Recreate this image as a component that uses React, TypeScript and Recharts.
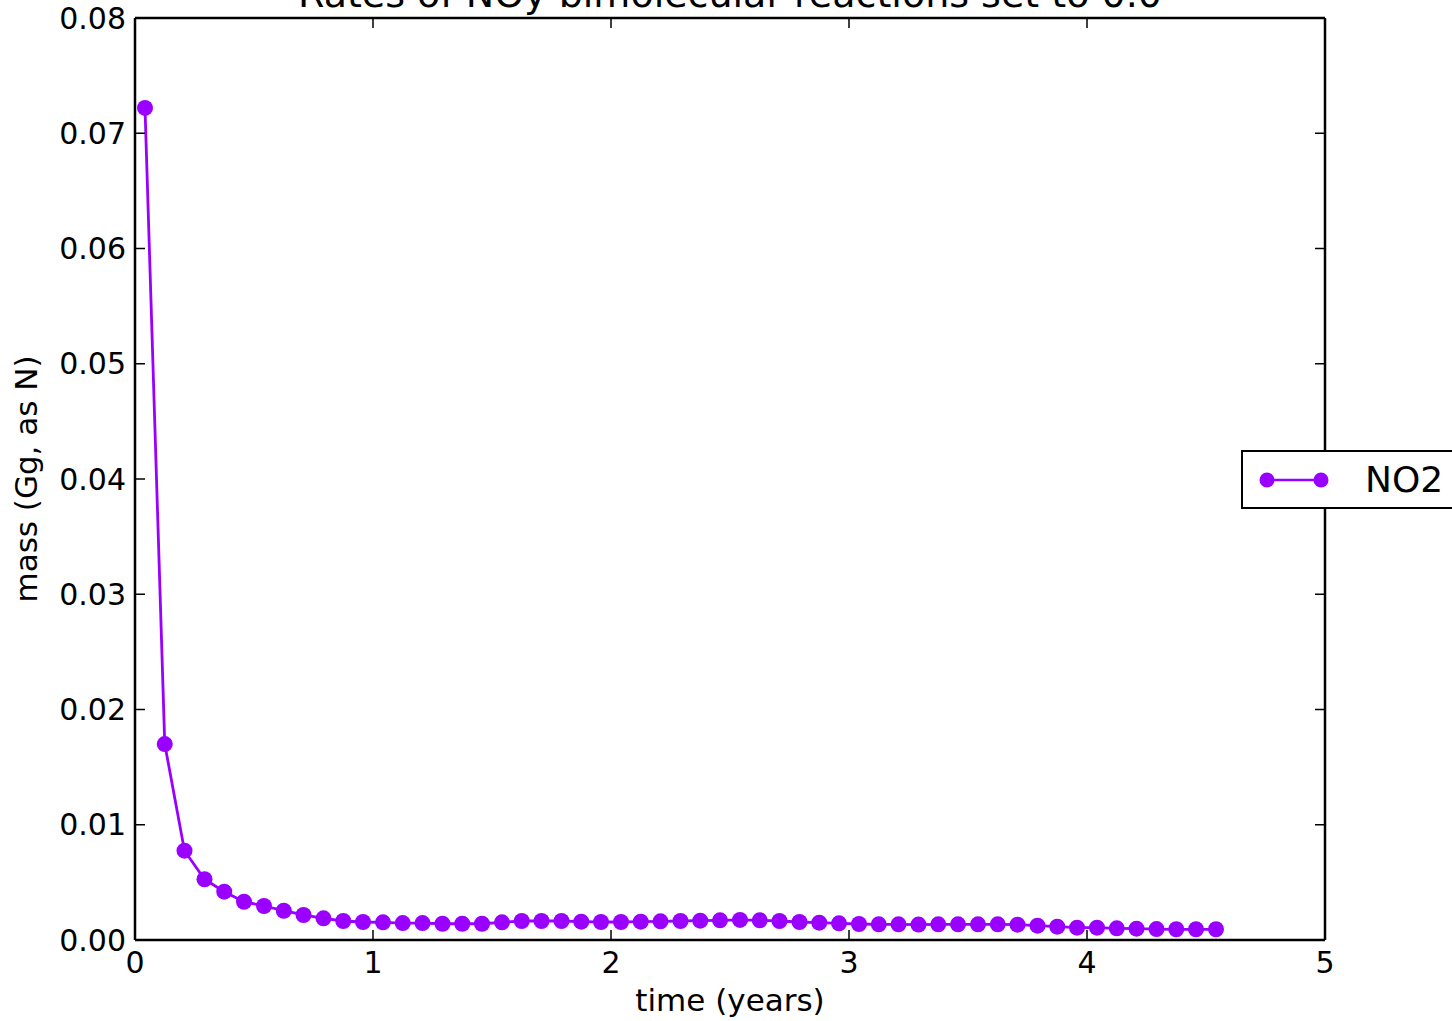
import { LineChart, Line, XAxis, YAxis, Legend, Label } from 'recharts';

// time (years), monthly samples
const TIMES = [
  0.042, 0.125, 0.208, 0.292, 0.375, 0.458, 0.542, 0.625, 0.708, 0.792, 0.875, 0.958,
  1.042, 1.125, 1.208, 1.292, 1.375, 1.458, 1.542, 1.625, 1.708, 1.792, 1.875, 1.958,
  2.042, 2.125, 2.208, 2.292, 2.375, 2.458, 2.542, 2.625, 2.708, 2.792, 2.875, 2.958,
  3.042, 3.125, 3.208, 3.292, 3.375, 3.458, 3.542, 3.625, 3.708, 3.792, 3.875, 3.958,
  4.042, 4.125, 4.208, 4.292, 4.375, 4.458, 4.542,
];

// NO2 mass (Gg, as N)
const NO2 = [
  0.0722, 0.0170, 0.00775, 0.00527, 0.00419, 0.00332, 0.00295, 0.00254, 0.00217, 0.00188, 0.00165, 0.00156,
  0.00153, 0.00147, 0.00147, 0.00141, 0.00141, 0.00141, 0.00153, 0.00165, 0.00165, 0.00165, 0.00159, 0.00156,
  0.00156, 0.00159, 0.00162, 0.00165, 0.00168, 0.00171, 0.00174, 0.00171, 0.00165, 0.00156, 0.00150, 0.00145,
  0.00139, 0.00136, 0.00136, 0.00134, 0.00136, 0.00136, 0.00136, 0.00136, 0.00133, 0.00124, 0.00116, 0.00107,
  0.00107, 0.00101, 0.00098, 0.00095, 0.00093, 0.00093, 0.00093,
];

const X_TICKS = [0, 1, 2, 3, 4, 5];
const Y_TICKS = [0, 0.01, 0.02, 0.03, 0.04, 0.05, 0.06, 0.07, 0.08];

const TITLE = 'Rates of NOy bimolecular reactions set to 0.0';
const PURPLE = '#9900ff';
const FONT = '"DejaVu Sans", sans-serif';

const data = TIMES.map((t, i) => ({ t, v: NO2[i] }));

const BottomTick = ({ x, y, payload }: any) => (
  <g>
    <line x1={x} x2={x} y1={y} y2={y - 10} stroke="#000" strokeWidth={1.5} />
    <text x={x} y={y + 33} textAnchor="middle" fontSize={30} fontFamily={FONT} fill="#000">
      {payload.value}
    </text>
  </g>
);

const TopTick = ({ x, y }: any) => (
  <line x1={x} x2={x} y1={y} y2={y + 10} stroke="#000" strokeWidth={1.5} />
);

const LeftTick = ({ x, y, payload }: any) => (
  <g>
    <line x1={x} x2={x + 10} y1={y} y2={y} stroke="#000" strokeWidth={1.5} />
    <text x={x - 9} y={y + 10.5} textAnchor="end" fontSize={30} fontFamily={FONT} fill="#000">
      {Number(payload.value).toFixed(2)}
    </text>
  </g>
);

const RightTick = ({ x, y }: any) => (
  <line x1={x} x2={x - 10} y1={y} y2={y} stroke="#000" strokeWidth={1.5} />
);

const LegendBox = () => (
  <div
    style={{
      boxSizing: 'border-box',
      height: 59,
      width: 260,
      border: '2px solid #000',
      background: '#fff',
      display: 'flex',
      alignItems: 'center',
      fontFamily: FONT,
    }}
  >
    <svg width={122} height={30} style={{ display: 'block' }}>
      <line x1={24} x2={78} y1={15} y2={15} stroke={PURPLE} strokeWidth={2.5} />
      <circle cx={24} cy={15} r={7.5} fill={PURPLE} />
      <circle cx={78} cy={15} r={7.5} fill={PURPLE} />
    </svg>
    <span style={{ fontSize: 36, color: '#000', lineHeight: 1 }}>NO2</span>
  </div>
);

const axisLine = { stroke: '#000', strokeWidth: 2.5 };

export default function App() {
  return (
    <div style={{ position: 'absolute', left: 0, top: 0, width: 1452, height: 1021, overflow: 'hidden', background: '#fff' }}>
      <LineChart
        width={1452}
        height={1021}
        data={data}
        margin={{ top: 0, right: 0, bottom: 0, left: 0 }}
      >
        <XAxis
          xAxisId="b"
          dataKey="t"
          type="number"
          domain={[0, 5]}
          ticks={X_TICKS}
          allowDataOverflow
          orientation="bottom"
          height={81}
          tickSize={0}
          tickMargin={0}
          tickLine={false}
          axisLine={axisLine}
          tick={<BottomTick />}
          interval={0}
        >
          <Label
            content={({ viewBox }: any) => (
              <text
                x={viewBox.x + viewBox.width / 2}
                y={viewBox.y + 71}
                textAnchor="middle"
                fontSize={31}
                fontFamily={FONT}
                fill="#000"
              >
                time (years)
              </text>
            )}
          />
        </XAxis>
        <XAxis
          xAxisId="t"
          dataKey="t"
          type="number"
          domain={[0, 5]}
          ticks={X_TICKS}
          allowDataOverflow
          orientation="top"
          height={18}
          tickSize={0}
          tickMargin={0}
          tickLine={false}
          axisLine={axisLine}
          tick={<TopTick />}
          interval={0}
        >
          <Label
            content={({ viewBox }: any) => (
              <text
                x={viewBox.x + viewBox.width / 2}
                y={7}
                textAnchor="middle"
                fontSize={38}
                fontFamily={FONT}
                fill="#000"
              >
                {TITLE}
              </text>
            )}
          />
        </XAxis>
        <YAxis
          yAxisId="l"
          type="number"
          domain={[0, 0.08]}
          ticks={Y_TICKS}
          allowDataOverflow
          orientation="left"
          width={135}
          tickSize={0}
          tickMargin={0}
          tickLine={false}
          axisLine={axisLine}
          tick={<LeftTick />}
          interval={0}
        >
          <Label
            content={({ viewBox }: any) => {
              const cx = viewBox.x + viewBox.width - 98;
              const cy = viewBox.y + viewBox.height / 2;
              return (
                <text
                  x={cx}
                  y={cy}
                  transform={`rotate(-90, ${cx}, ${cy})`}
                  textAnchor="middle"
                  fontSize={31}
                  fontFamily={FONT}
                  fill="#000"
                >
                  mass (Gg, as N)
                </text>
              );
            }}
          />
        </YAxis>
        <YAxis
          yAxisId="r"
          type="number"
          domain={[0, 0.08]}
          ticks={Y_TICKS}
          allowDataOverflow
          orientation="right"
          width={127}
          tickSize={0}
          tickMargin={0}
          tickLine={false}
          axisLine={axisLine}
          tick={<RightTick />}
          interval={0}
        />
        <Legend
          layout="horizontal"
          verticalAlign="middle"
          align="center"
          content={<LegendBox />}
          wrapperStyle={{ left: 1241, top: 450, width: 260, height: 59 }}
        />
        <Line
          xAxisId="b"
          yAxisId="l"
          dataKey="v"
          name="NO2"
          type="linear"
          stroke={PURPLE}
          strokeWidth={2.8}
          dot={{ r: 8, fill: PURPLE, stroke: PURPLE, strokeWidth: 0 }}
          activeDot={false}
          isAnimationActive={false}
        />
      </LineChart>
    </div>
  );
}
